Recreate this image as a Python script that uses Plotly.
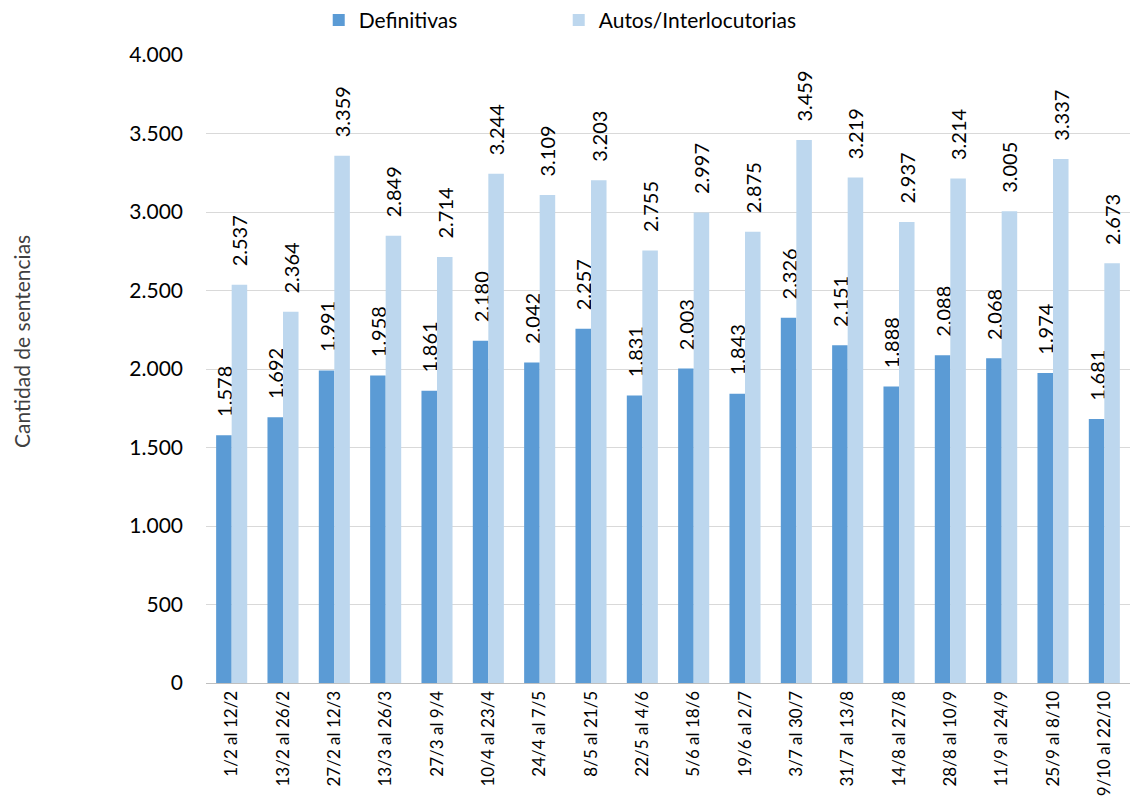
import plotly.graph_objects as go

categories = ["1/2 al 12/2", "13/2 al 26/2", "27/2 al 12/3", "13/3 al 26/3", "27/3 al 9/4",
              "10/4 al 23/4", "24/4 al 7/5", "8/5 al 21/5", "22/5 al 4/6", "5/6 al 18/6",
              "19/6 al 2/7", "3/7 al 30/7", "31/7 al 13/8", "14/8 al 27/8", "28/8 al 10/9",
              "11/9 al 24/9", "25/9 al 8/10", "9/10 al 22/10"]
definitivas = [1578, 1692, 1991, 1958, 1861, 2180, 2042, 2257, 1831, 2003,
               1843, 2326, 2151, 1888, 2088, 2068, 1974, 1681]
autos = [2537, 2364, 3359, 2849, 2714, 3244, 3109, 3203, 2755, 2997,
         2875, 3459, 3219, 2937, 3214, 3005, 3337, 2673]
y_ticks = [0, 500, 1000, 1500, 2000, 2500, 3000, 3500, 4000]

FONT = "Lato, Carlito, 'Liberation Sans', sans-serif"
PAD = "\u00a0\u00a0\u00a0"

fig = go.Figure()
fig.add_trace(go.Bar(name="Definitivas", x=categories, y=definitivas,
                     marker_color="#5B9BD5", marker_line_width=0,
                     texttemplate=PAD + "%{y:,}", textposition="outside", textangle=-90,
                     textfont=dict(size=20, color="#000000", family=FONT),
                     cliponaxis=False, constraintext="none"))
fig.add_trace(go.Bar(name="Autos/Interlocutorias", x=categories, y=autos,
                     marker_color="#BDD7EE", marker_line_width=0,
                     texttemplate=PAD + "%{y:,}", textposition="outside", textangle=-90,
                     textfont=dict(size=20, color="#000000", family=FONT),
                     cliponaxis=False, constraintext="none"))

fig.update_layout(
    width=1122, height=791,
    barmode="group", bargap=0.395, bargroupgap=0,
    separators=",.",
    paper_bgcolor="white", plot_bgcolor="white",
    margin=dict(l=198, r=0, t=47, b=116, autoexpand=False),
    font=dict(family=FONT, color="#000000"),
    legend=dict(orientation="h", x=0.122, y=1.055, xanchor="left", yanchor="middle",
                xref="paper", yref="paper", font=dict(size=21),
                traceorder="normal", entrywidth=195, bgcolor="rgba(0,0,0,0)"),
    yaxis=dict(range=[0, 4000], tickvals=y_ticks, tickformat=",",
               showgrid=True, gridcolor="#D9D9D9", gridwidth=1,
               zeroline=False, showline=False, ticks="",
               tickfont=dict(size=21), ticklabelstandoff=22),
    xaxis=dict(tickangle=-90, tickfont=dict(size=17), showline=True,
               linecolor="#BFBFBF", linewidth=1, ticks="", showgrid=False),
    annotations=[dict(text="Cantidad de sentencias", xref="paper", yref="paper",
                      x=0, y=0.543, xshift=-184, xanchor="center", yanchor="middle",
                      textangle=-90, showarrow=False,
                      font=dict(size=21, color="#404040", family=FONT))],
)
fig.write_html("out.html")
